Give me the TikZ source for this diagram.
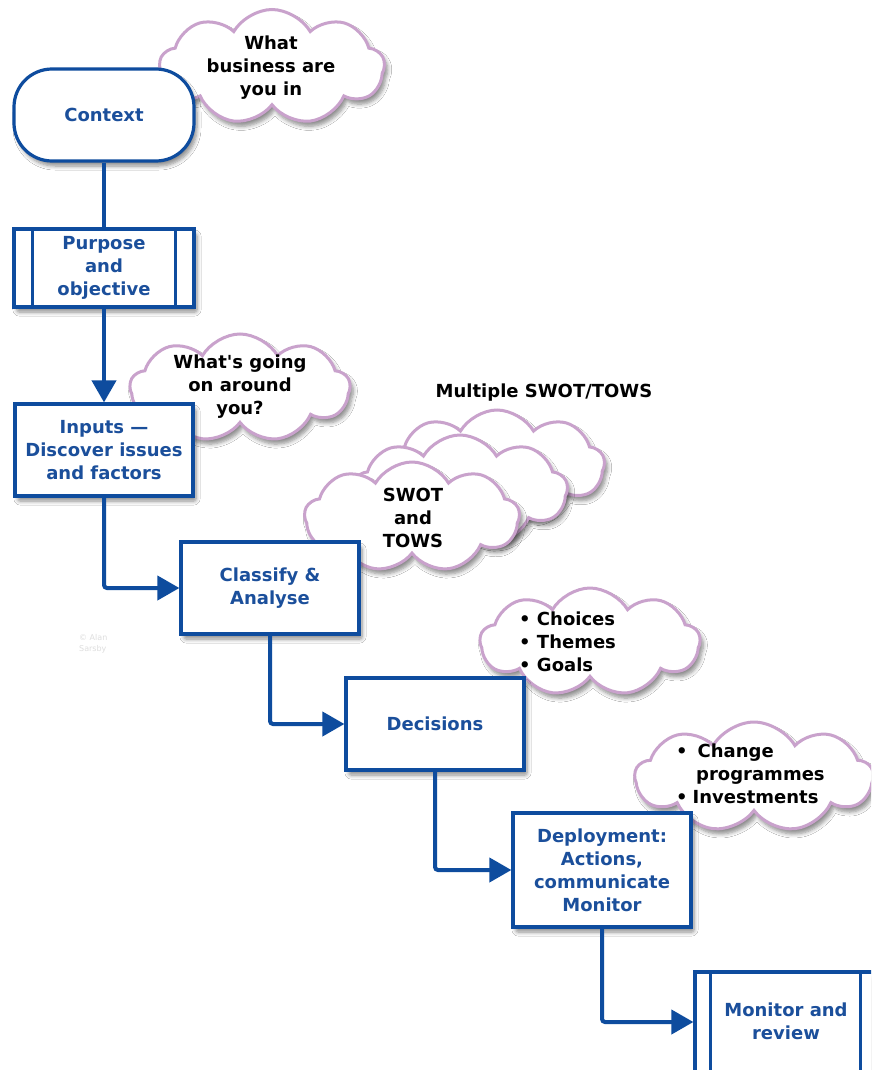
\documentclass[tikz,border=0pt]{standalone}
\usepackage{fontspec}
\setmainfont{DejaVu Sans}
\usetikzlibrary{shapes.symbols,shadows,shadows.blur,arrows.meta,calc}
\definecolor{bblue}{HTML}{0E4C9E}
\definecolor{tblue}{HTML}{1B4F9B}
\definecolor{mauve}{HTML}{C9A2CC}
\begin{document}
\begin{tikzpicture}[x=1pt,y=-1pt,
  font=\fontsize{18}{23}\selectfont\bfseries,
  shad/.style={blur shadow={shadow blur steps=6, shadow blur extra rounding=2pt, shadow xshift=3pt, shadow yshift=-5pt, shadow opacity=45, shadow blur radius=4pt}},
  box/.style={draw=bblue, line width=3.2pt, fill=white, text=tblue, align=center, inner sep=0pt, shad},
  cloudn/.style={cloud, cloud puffs=9, cloud puff arc=120, cloud ignores aspect, draw=mauve, line width=3pt, fill=white, align=center, inner sep=0pt, shad},
  ctext/.style={text=black, align=center, inner sep=0pt},
  conn/.style={draw=bblue, line width=4pt},
  arr/.style={conn, rounded corners=3pt, -{Triangle[length=22pt,width=24pt]}},
]
\useasboundingbox (0,0) rectangle (871,1070);
\clip (0,0) rectangle (871,1070);
\fill[white] (0,0) rectangle (871,1070);

% clouds
\node[cloudn, minimum width=225pt, minimum height=115pt] (c1) at (272,67) {};
\node[ctext] (c1t) at (271,68) {What\\business are\\you in};

\node[cloudn, minimum width=220pt, minimum height=108pt] (c2) at (240,388) {};
\node[ctext] (c2t) at (240,387) {What\textquotesingle s going\\on around\\you?};

\node[text=black, inner sep=0pt] (mult) at (544,393) {Multiple SWOT/TOWS};

\node[cloudn, minimum width=215pt, minimum height=110pt] (s3) at (497,465) {};
\node[cloudn, minimum width=215pt, minimum height=110pt] (s2) at (460,490) {};
\node[cloudn, minimum width=215pt, minimum height=110pt] (s1) at (412,517) {};
\node[ctext] (s1t) at (413,518) {SWOT\\and\\TOWS};

\node[cloudn, minimum width=220pt, minimum height=108pt] (c4) at (590,642) {};
\node[ctext, align=left, anchor=west] (c4t) at (519,642) {• Choices\\• Themes\\• Goals};

\node[cloudn, minimum width=238pt, minimum height=110pt] (c5) at (754,777) {};
\node[ctext, align=left, anchor=west] (c5t) at (676,774) {•\hspace{10pt}Change\\\hspace{20pt}programmes\\•\hspace{5pt}Investments};

% copyright
\node[font=\fontsize{8}{11}\selectfont, text=black!13, align=left, anchor=west, inner sep=0pt] (copy) at (79,644) {© Alan\\Sarsby};

% boxes
\node[box, rounded corners=38pt, minimum width=180pt, minimum height=92pt] (context) at (104,115) {Context};
\node[box, minimum width=180pt, minimum height=78pt] (purpose) at (104,268) {Purpose\\and\\objective};
\draw[bblue, line width=2.5pt] ($(purpose.north west)+(20,1.5)$) -- ($(purpose.south west)+(20,-1.5)$);
\draw[bblue, line width=2.5pt] ($(purpose.north east)+(-20,1.5)$) -- ($(purpose.south east)+(-20,-1.5)$);
\node[box, minimum width=178pt, minimum height=92pt] (inputs) at (104,450) {Inputs —\\Discover issues\\and factors};
\node[box, minimum width=178pt, minimum height=92pt] (classify) at (270,588) {Classify \&\\Analyse};
\node[box, minimum width=178pt, minimum height=92pt] (decisions) at (435,724) {Decisions};
\node[box, minimum width=178pt, minimum height=114pt] (deploy) at (602,870) {Deployment:\\Actions,\\communicate\\Monitor};
\node[box, minimum width=190pt, minimum height=100pt] (monitor) at (790,1022) {};
\node[text=tblue, align=center, inner sep=0pt] (montext) at (786,1021) {Monitor and\\review};
\draw[bblue, line width=2.5pt] ($(monitor.north west)+(17,1.5)$) -- ($(monitor.south west)+(17,-1.5)$);
\draw[bblue, line width=2.5pt] ($(monitor.north west)+(167,1.5)$) -- ($(monitor.south west)+(167,-1.5)$);

% connectors
\draw[conn] (context.south) -- (purpose.north);
\draw[arr] (purpose.south) -- (inputs.north);
\draw[arr] (inputs.south) |- (classify.west);
\draw[arr] (classify.south) |- (decisions.west);
\draw[arr] (decisions.south) |- (deploy.west);
\draw[arr] (deploy.south) |- (monitor.west);
\end{tikzpicture}
\end{document}
